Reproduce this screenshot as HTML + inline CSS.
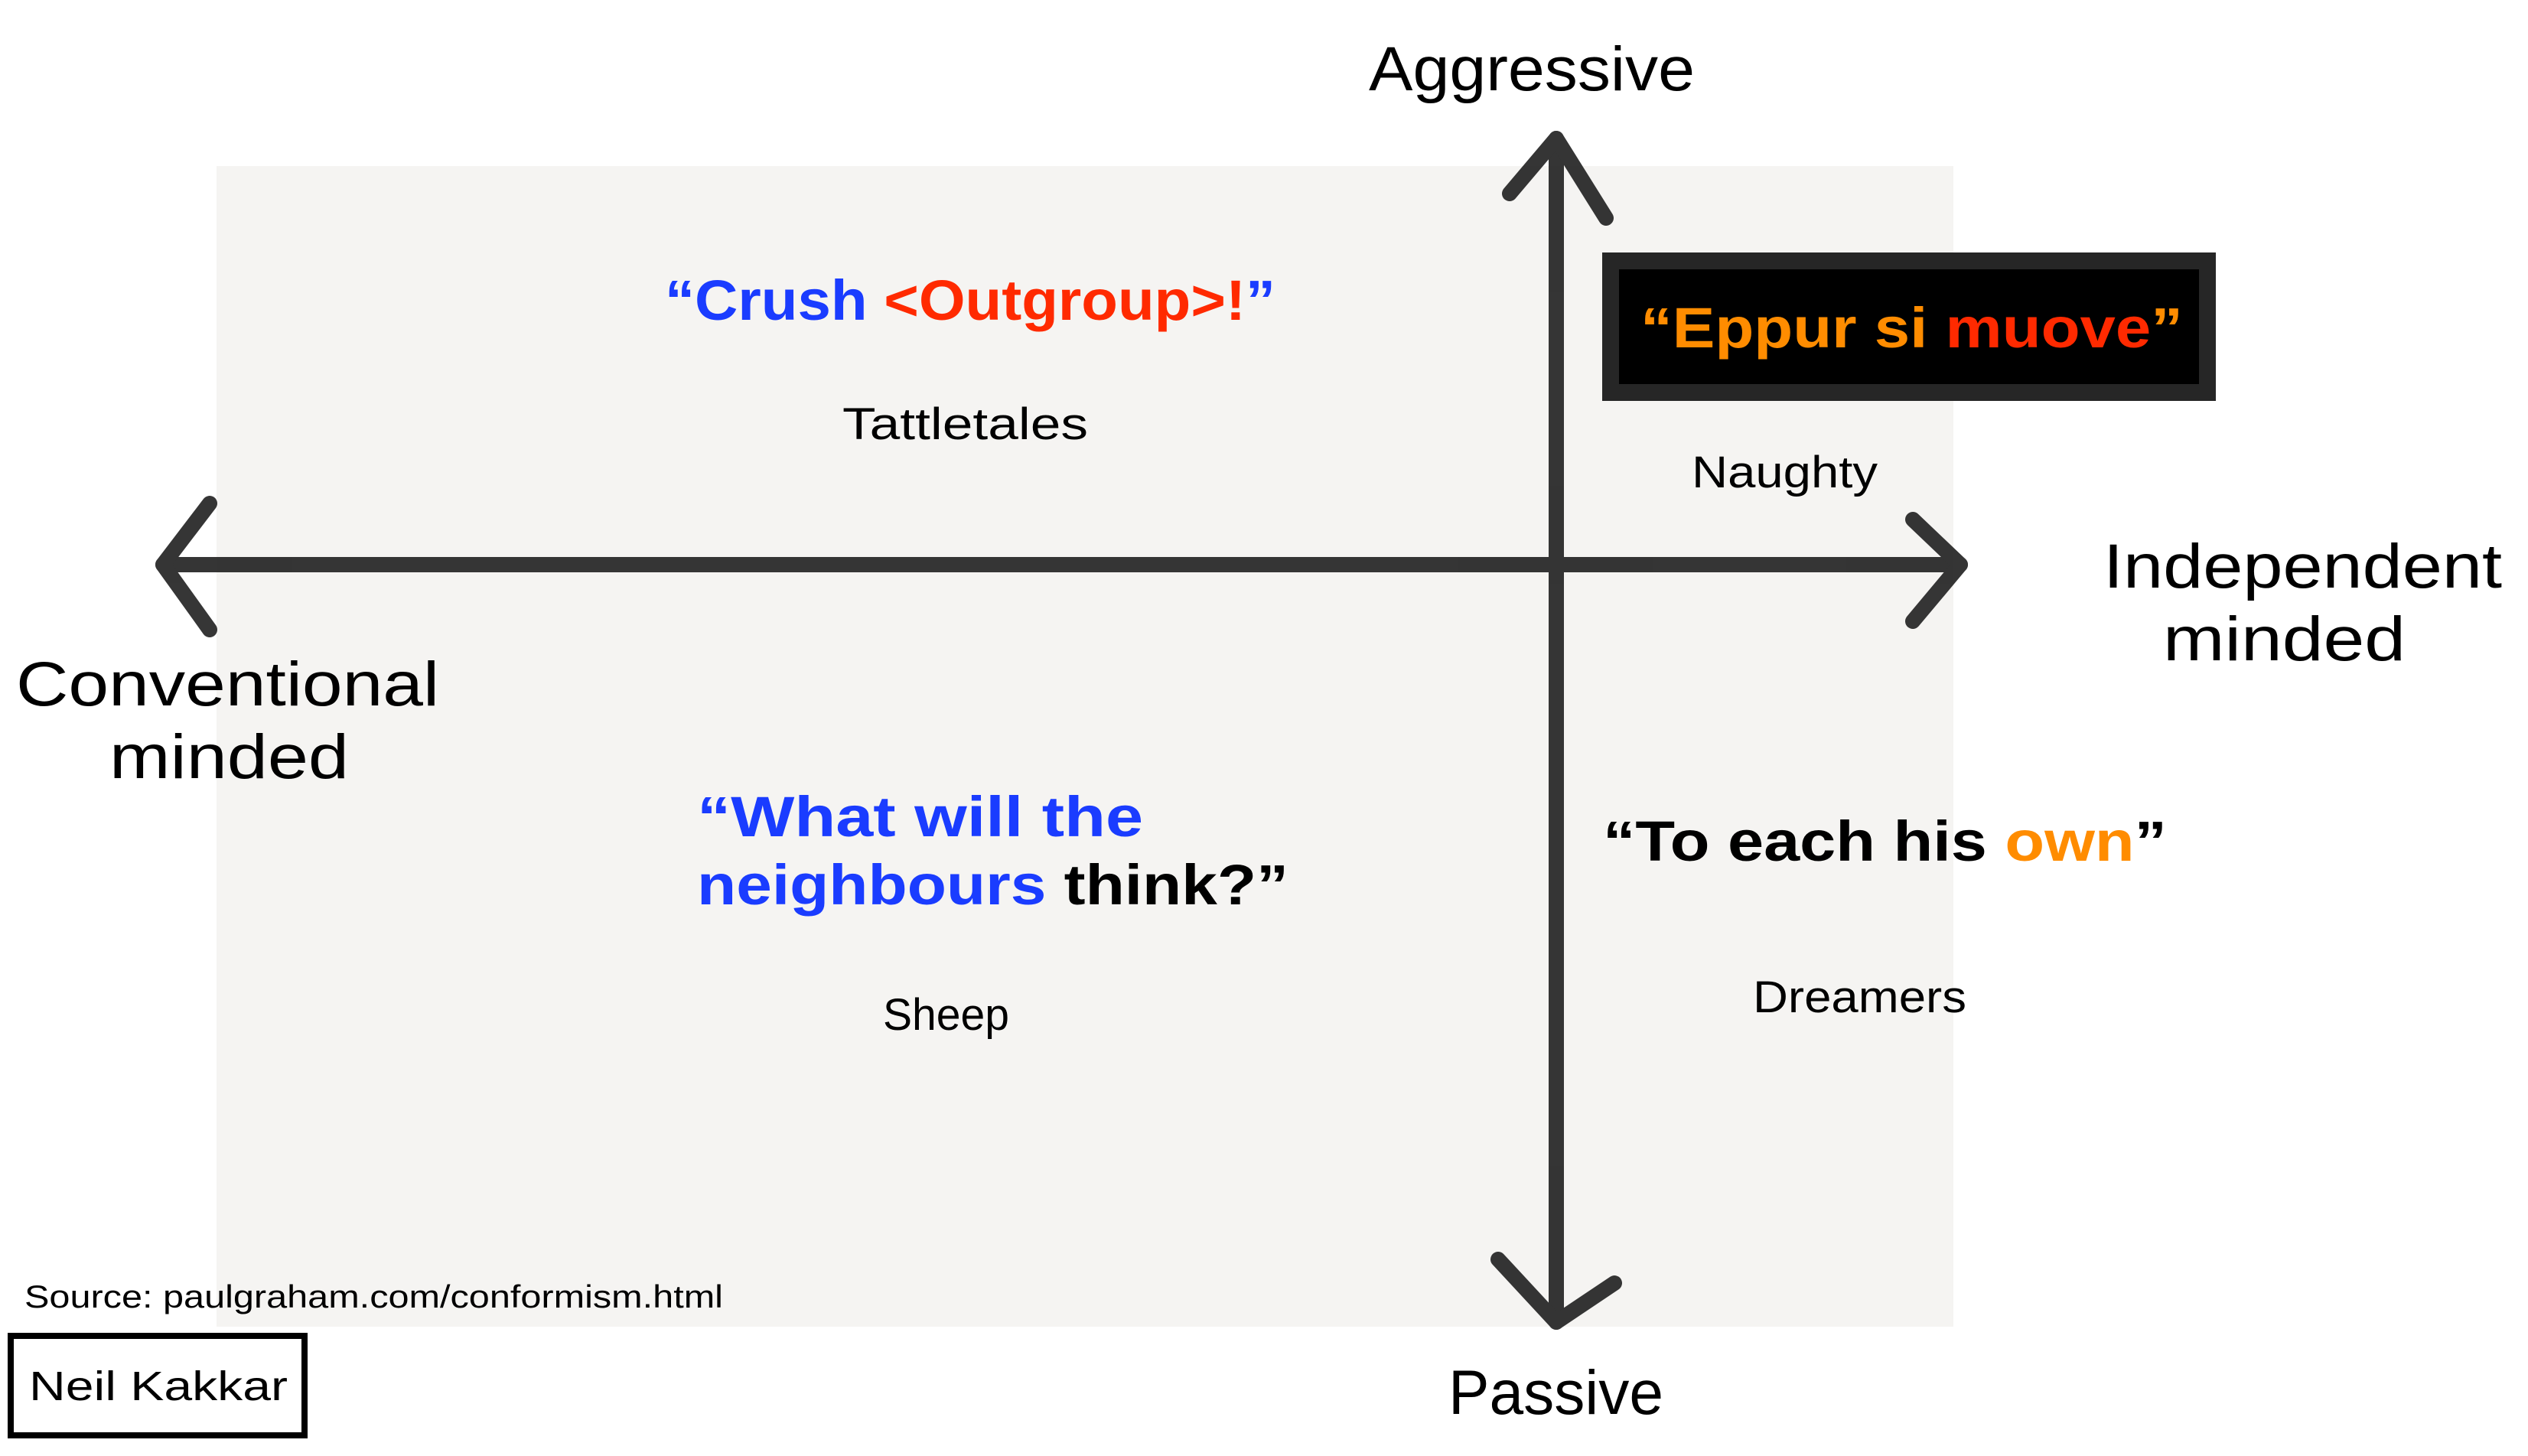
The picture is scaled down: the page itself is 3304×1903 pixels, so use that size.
<!DOCTYPE html>
<html><head><meta charset="utf-8"><style>
html,body{margin:0;padding:0;background:#fff;}
svg{display:block}
text{font-family:"Liberation Sans",sans-serif;}
</style></head><body>
<svg width="3304" height="1903" viewBox="0 0 3304 1903" xmlns="http://www.w3.org/2000/svg">
<rect x="283" y="217" width="2270" height="1517" fill="#f5f4f2"/>
<g stroke="#1a1a1a" stroke-width="20" stroke-linecap="round" stroke-linejoin="round" fill="none" opacity="0.88">
<line x1="213" y1="738" x2="2562" y2="738"/>
<line x1="2034" y1="181" x2="2034" y2="1728"/>
<polyline points="274,658 213,738 274,823"/>
<polyline points="2500,679 2562,738 2500,812"/>
<polyline points="1973,253 2034,181 2099,285"/>
<polyline points="1958,1646 2034,1728 2110,1677"/>
</g>
<rect x="2105" y="341" width="780" height="172" fill="#000" stroke="#262626" stroke-width="22"/>
<g font-size="82" fill="#000" lengthAdjust="spacingAndGlyphs">
<text x="1789" y="118" textLength="426" lengthAdjust="spacingAndGlyphs">Aggressive</text>
<text x="1893" y="1848" textLength="281" lengthAdjust="spacingAndGlyphs">Passive</text>
<text x="2749" y="768" textLength="521" lengthAdjust="spacingAndGlyphs">Independent</text>
<text x="2827" y="863" textLength="317" lengthAdjust="spacingAndGlyphs">minded</text>
<text x="21" y="922" textLength="553" lengthAdjust="spacingAndGlyphs">Conventional</text>
<text x="143" y="1017" textLength="313" lengthAdjust="spacingAndGlyphs">minded</text>
</g>
<text x="869" y="418" font-size="74" font-weight="bold" textLength="798" lengthAdjust="spacingAndGlyphs"><tspan fill="#1a3cff">“Crush </tspan><tspan fill="#ff2a00">&lt;Outgroup&gt;!</tspan><tspan fill="#1a3cff">”</tspan></text>
<text x="2144" y="454" font-size="74" font-weight="bold" textLength="709" lengthAdjust="spacingAndGlyphs"><tspan fill="#ff8c00">“Eppur si </tspan><tspan fill="#ff2a00">muove</tspan><tspan fill="#ff8c00">”</tspan></text>
<text x="911" y="1093" font-size="74" font-weight="bold" fill="#1a3cff" textLength="583" lengthAdjust="spacingAndGlyphs">“What will the</text>
<text x="911" y="1182" font-size="74" font-weight="bold" textLength="773" lengthAdjust="spacingAndGlyphs"><tspan fill="#1a3cff">neighbours </tspan><tspan fill="#000">think?”</tspan></text>
<text x="2095" y="1125" font-size="74" font-weight="bold" textLength="737" lengthAdjust="spacingAndGlyphs"><tspan fill="#000">“To each his </tspan><tspan fill="#ff8c00">own</tspan><tspan fill="#000">”</tspan></text>
<g font-size="58" fill="#000">
<text x="1101" y="574" textLength="321" lengthAdjust="spacingAndGlyphs">Tattletales</text>
<text x="2211" y="637" textLength="243" lengthAdjust="spacingAndGlyphs">Naughty</text>
<text x="1154" y="1346" textLength="165" lengthAdjust="spacingAndGlyphs">Sheep</text>
<text x="2291" y="1323" textLength="279" lengthAdjust="spacingAndGlyphs">Dreamers</text>
</g>
<text x="32" y="1709" font-size="42" fill="#000" textLength="913" lengthAdjust="spacingAndGlyphs">Source: paulgraham.com/conformism.html</text>
<rect x="14" y="1746" width="384" height="130" fill="#fff" stroke="#000" stroke-width="8"/>
<text x="38" y="1830" font-size="54" fill="#000" textLength="338" lengthAdjust="spacingAndGlyphs">Neil Kakkar</text>
</svg>
</body></html>
